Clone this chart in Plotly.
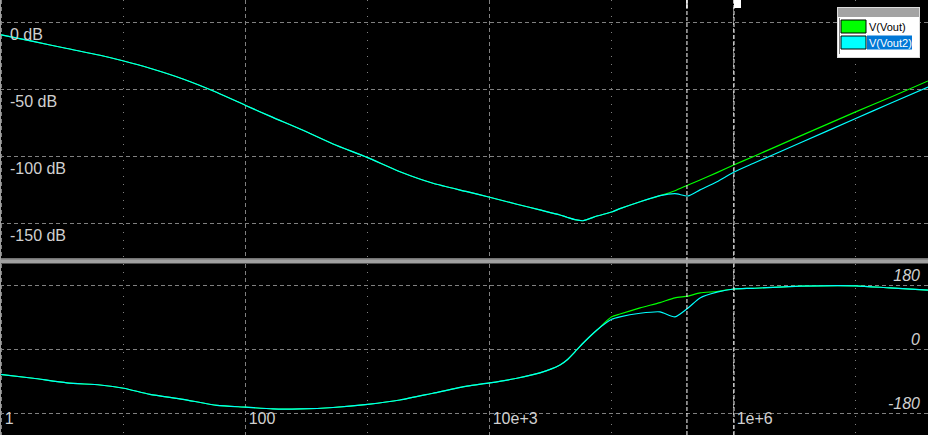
import plotly.graph_objects as go

# ---------------- data ----------------
freq_hz = [0.97, 1.81, 3.43, 6.4, 10, 16.4, 30.6, 58.2, 100, 167, 279, 520, 1000, 1840,
           3430, 6520, 1e4, 16700, 25800, 37700, 43000, 50000, 58200, 75800, 1e5, 117000,
           171000, 249000, 330000, 423000, 530000, 730000, 1e6, 1.44e6, 3.49e6, 1e7,
           1.91e7, 3.92e7]

mag_vout = [-9.3, -14.3, -19.6, -24.6, -28.9, -34.3, -42.3, -52.4, -62.1, -71.0, -79.6,
            -90.8, -101.0, -111.5, -120.1, -126.4, -130.6, -135.8, -140.0, -143.8, -145.5,
            -147.3, -148.1, -144.6, -141.6, -139.1, -133.9, -129.4, -125.7, -121.4, -117.7,
            -112.2, -106.5, -100.3, -85.0, -66.9, -56.1, -43.8]

mag_vout2 = [-9.3, -14.3, -19.6, -24.6, -28.9, -34.3, -42.3, -52.4, -62.1, -71.0, -79.6,
             -90.8, -101.0, -111.5, -120.1, -126.4, -130.6, -135.8, -140.0, -143.8, -145.5,
             -147.3, -148.1, -144.6, -141.6, -139.1, -133.9, -129.4, -127.9, -129.6, -125.1,
             -119.0, -111.9, -105.4, -90.1, -71.8, -60.6, -48.3]

phase_vout = [-70, -81, -94, -100, -109, -126, -140, -157, -162, -167, -167, -163, -154,
              -142, -123, -103, -94, -81, -66, -44, -30, -7, 17, 54, 91, 99, 116, 131, 144,
              149, 158, 162, 169, 171, 177, 178, 172, 166]

phase_vout2 = [-70, -81, -94, -100, -109, -126, -140, -157, -162, -167, -167, -163, -154,
               -142, -123, -103, -94, -81, -66, -44, -30, -7, 17, 54, 84, 91, 101, 105, 91,
               116, 144, 160, 169, 171, 177, 178, 172, 166]

series_names = ["V(Vout)", "V(Vout2)"]
series_colors = ["#00ff00", "#00ffff"]

x_major_vals = [1, 100, 1e4, 1e6]
x_major_text = ["1", "100", "10e+3", "1e+6"]
x_minor_vals = [10, 1000, 1e5, 1e7]

mag_tick_vals = [0, -50, -100, -150]
mag_tick_text = ["0 dB", "-50 dB", "-100 dB", "-150 dB"]
phase_tick_vals = [180, 0, -180]
phase_tick_text = ["180", "0", "-180"]

cursor_freqs = [414000, 1.006e6]

# ---------------- figure ----------------
W, H = 928, 435


def px(x):
    return x / W


def py(y):
    return 1 - y / H


fig = go.Figure()
for name, color, mag, ph in [(series_names[0], series_colors[0], mag_vout, phase_vout),
                             (series_names[1], series_colors[1], mag_vout2, phase_vout2)]:
    fig.add_trace(go.Scatter(x=freq_hz, y=mag, mode="lines", name=name,
                             line=dict(color=color, width=1.2, shape="spline",
                                       smoothing=0.6),
                             xaxis="x", yaxis="y", showlegend=False))
    fig.add_trace(go.Scatter(x=freq_hz, y=ph, mode="lines", name=name,
                             line=dict(color=color, width=1.2, shape="spline",
                                       smoothing=0.6),
                             xaxis="x2", yaxis="y2", showlegend=False))

grid = "#808080"
tickfont = dict(family="Liberation Sans, Arial, sans-serif", size=16, color="#d0d0d0")

common_x = dict(type="log", range=[-0.014, 7.593], showgrid=True, gridcolor=grid,
                gridwidth=1, griddash="4px,3px", tickmode="array", tickvals=x_major_vals,
                zeroline=False, showline=False, ticks="",
                minor=dict(tickmode="array", tickvals=x_minor_vals, showgrid=True,
                           gridcolor=grid, griddash="1px,7px", gridwidth=1, ticks=""))

fig.update_layout(
    width=W, height=H, autosize=False,
    margin=dict(l=0, r=0, t=0, b=0, pad=0),
    paper_bgcolor="black", plot_bgcolor="black",
    xaxis=dict(**common_x, anchor="y", showticklabels=False),
    xaxis2=dict(**common_x, anchor="y2", ticktext=x_major_text,
                ticklabelposition="inside right", tickfont=tickfont,
                ticklabelshift=3, ticklabelstandoff=2, ticklabeloverflow="allow"),
    yaxis=dict(domain=[1 - 258 / H, 1], range=[-175.9, 16.6], tickmode="array",
               tickvals=mag_tick_vals, ticktext=mag_tick_text, showgrid=True,
               gridcolor=grid, griddash="4px,3px", zeroline=False, showline=False,
               ticks="", ticklabelposition="inside", tickfont=tickfont,
               ticklabelshift=12, ticklabelstandoff=7, ticklabeloverflow="allow"),
    yaxis2=dict(domain=[0, 1 - 264 / H], range=[-240, 239], side="right",
                tickmode="array", tickvals=phase_tick_vals, ticktext=phase_tick_text,
                showgrid=True, gridcolor=grid, griddash="4px,3px", zeroline=False,
                showline=False, ticks="", ticklabelposition="inside",
                tickfont=dict(**tickfont, style="italic"),
                ticklabelshift=-10, ticklabelstandoff=5, ticklabeloverflow="allow"),
    hovermode=False,
)

shapes = []
# cursors (dashed white lines across both panes)
for f in cursor_freqs:
    shapes.append(dict(type="line", xref="x", yref="paper", x0=f, x1=f, y0=0, y1=1,
                       line=dict(color="white", width=1, dash="4px,2px"), layer="above"))
# cursor handles
shapes.append(dict(type="rect", xref="x", yref="paper", xsizemode="pixel",
                   ysizemode="pixel", xanchor=cursor_freqs[0], yanchor=1,
                   x0=-8, x1=0, y0=-8, y1=0, line=dict(color="white", width=1),
                   fillcolor="black", layer="above"))
shapes.append(dict(type="rect", xref="x", yref="paper", xsizemode="pixel",
                   ysizemode="pixel", xanchor=cursor_freqs[1], yanchor=1,
                   x0=0, x1=7, y0=-8, y1=0, line=dict(color="white", width=0),
                   fillcolor="white", layer="above"))
# pane separator
shapes.append(dict(type="rect", xref="paper", yref="paper", x0=0, x1=1,
                   y0=py(259.5), y1=py(258.5), fillcolor="#e6e6e6", line_width=0,
                   layer="above"))
shapes.append(dict(type="rect", xref="paper", yref="paper", x0=0, x1=1,
                   y0=py(263.5), y1=py(259.5), fillcolor="#a0a0a0", line_width=0,
                   layer="above"))
# left window edge
shapes.append(dict(type="line", xref="paper", yref="paper", x0=px(0.5), x1=px(0.5),
                   y0=0, y1=1, line=dict(color="#a0a0a0", width=1), layer="above"))

# legend box
shapes += [
    dict(type="rect", xref="paper", yref="paper", x0=px(837), x1=px(920), y0=py(58),
         y1=py(7), fillcolor="#dcdcdc", line_width=0, layer="above"),
    dict(type="rect", xref="paper", yref="paper", x0=px(838), x1=px(919), y0=py(17),
         y1=py(8), fillcolor="#a3a3a3", line_width=0, layer="above"),
    dict(type="rect", xref="paper", yref="paper", x0=px(838), x1=px(919), y0=py(57),
         y1=py(17), fillcolor="white", line_width=0, layer="above"),
    dict(type="line", xref="paper", yref="paper", x0=px(839.5), x1=px(839.5), y0=py(54),
         y1=py(18), line=dict(color="#808080", width=1), layer="above"),
    dict(type="rect", xref="paper", yref="paper", x0=px(867), x1=px(912), y0=py(49.5),
         y1=py(35.5), fillcolor="#0078d7", line_width=0, layer="above"),
]
for i, c in enumerate(series_colors):
    top = 20 + i * 16
    shapes.append(dict(type="rect", xref="paper", yref="paper", x0=px(841), x1=px(866),
                       y0=py(top + 13), y1=py(top), fillcolor=c,
                       line=dict(color="black", width=1), layer="above"))

annotations = []
for i, name in enumerate(series_names):
    annotations.append(dict(xref="paper", yref="paper", x=px(867.5), y=py(27 + i * 16),
                            xanchor="left", yanchor="middle", text=name, showarrow=False,
                            borderpad=0,
                            font=dict(family="Liberation Sans, Arial, sans-serif",
                                      size=11, color="black" if i == 0 else "white")))

fig.update_layout(shapes=shapes, annotations=annotations)

fig.write_html("out.html", config={"displayModeBar": False},
               post_script="document.body.style.margin='0';"
                           "document.body.style.background='black';")
